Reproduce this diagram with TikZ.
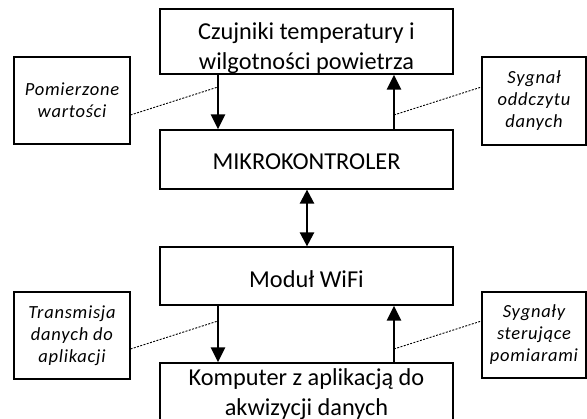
\documentclass[tikz,border=0pt]{standalone}
\usepackage{fontspec}
\setmainfont{Carlito}
\usetikzlibrary{arrows.meta}
\begin{document}
\begin{tikzpicture}[x=1pt,y=-1pt,
  box/.style={draw, line width=1.2pt, minimum width=293pt, align=center, inner sep=0pt,
    font=\fontsize{24.3}{30}\selectfont},
  note/.style={draw, line width=1.1pt, align=center, inner sep=0pt,
    font=\fontsize{18.5}{22}\selectfont\itshape\addfontfeature{LetterSpace=4}},
  arr/.style={line width=2.8pt, -{Triangle[width=14pt,length=15pt]}},
  biarr/.style={line width=2.4pt, {Triangle[width=14pt,length=14pt]}-{Triangle[width=14pt,length=14pt]}},
  dots/.style={line width=0.9pt, dash pattern=on 2pt off 1.4pt}]
\useasboundingbox (0,0) rectangle (587,419);
\clip (0,0) rectangle (587,419);
\node[box, minimum height=59pt] (top) at (306.5,41.5) {\rule{0pt}{31pt}Czujniki temperatury i\\wilgotności powietrza};
\node[box, minimum height=59pt] (mk) at (306.5,159.5) {\rule{0pt}{21pt}MIKROKONTROLER};
\node[box, minimum height=58pt] (wifi) at (306.5,276) {\rule{0pt}{23pt}Moduł WiFi};
\node[box, minimum height=62pt] (pc) at (306.5,394) {Komputer z aplikacją do\\akwizycji danych};

\node[note, minimum width=116pt, minimum height=87pt] (n1) at (72,100.5) {Pomierzone\\wartości};
\node[note, minimum width=104pt, minimum height=88pt] (n2) at (534,101) {Sygnał\\oddczytu\\danych};
\node[note, minimum width=116pt, minimum height=87pt] (n3) at (72,335.5) {Transmisja\\danych do\\aplikacji};
\node[note, minimum width=104pt, minimum height=86pt] (n4) at (534,335) {Sygnały\\sterujące\\pomiarami};

\draw[arr] ([xshift=-88.5pt]top.south) -- ([xshift=-88.5pt]mk.north);
\draw[arr] ([xshift=87.5pt]mk.north) -- ([xshift=87.5pt]top.south);
\draw[biarr] ([xshift=0.5pt]mk.south) -- ([xshift=0.5pt]wifi.north);
\draw[arr] ([xshift=-88.5pt]wifi.south) -- ([xshift=-88.5pt]pc.north);
\draw[arr] ([xshift=87.5pt]pc.north) -- ([xshift=87.5pt]wifi.south);

\coordinate (a1) at (218,87);
\coordinate (a2) at (394,115);
\coordinate (a3) at (218,321);
\coordinate (a4) at (394,349);
\draw[dots] ([yshift=-14.5pt]n1.east) -- (a1);
\draw[dots] (a2) -- ([yshift=14pt]n2.west);
\draw[dots] ([yshift=-13.5pt]n3.east) -- (a3);
\draw[dots] (a4) -- ([yshift=14pt]n4.west);
\end{tikzpicture}
\end{document}
